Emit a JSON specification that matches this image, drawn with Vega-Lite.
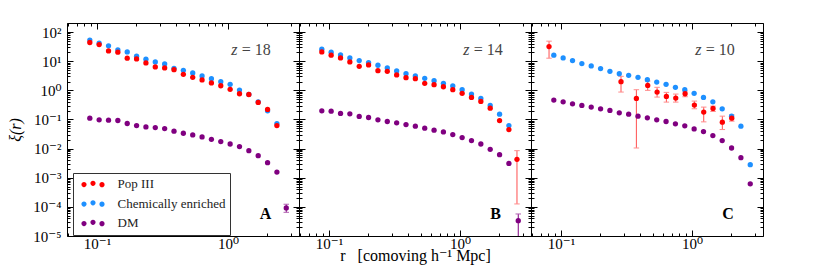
{
  "$schema": "https://vega.github.io/schema/vega-lite/v6.json",
  "padding": {"left": 7, "top": 15, "right": 5, "bottom": 2},
  "bounds": "flush",
  "spacing": 0,
  "config": {
    "view": {"stroke": "#000", "strokeWidth": 1},
    "axis": {"labelFont": "Liberation Serif, DejaVu Serif, serif", "labelFontSize": 15, "labelColor": "#000", "titleFont": "Liberation Serif, DejaVu Serif, serif", "titleFontSize": 15, "titleFontWeight": "normal", "titleColor": "#000", "tickColor": "#000", "domain": false, "grid": false, "labelOverlap": false, "labelFlush": false}
  },
  "data": {"values": [
    {"p":"A","s":"Chemically enriched","r":0.0881,"xi":53},
    {"p":"A","s":"Chemically enriched","r":0.1038,"xi":41.7},
    {"p":"A","s":"Chemically enriched","r":0.1224,"xi":33.7},
    {"p":"A","s":"Chemically enriched","r":0.1442,"xi":24.5},
    {"p":"A","s":"Chemically enriched","r":0.17,"xi":20.9},
    {"p":"A","s":"Chemically enriched","r":0.2004,"xi":14.8},
    {"p":"A","s":"Chemically enriched","r":0.2362,"xi":11.7},
    {"p":"A","s":"Chemically enriched","r":0.2784,"xi":9.46},
    {"p":"A","s":"Chemically enriched","r":0.3282,"xi":8.07},
    {"p":"A","s":"Chemically enriched","r":0.3869,"xi":5.72},
    {"p":"A","s":"Chemically enriched","r":0.456,"xi":4.88},
    {"p":"A","s":"Chemically enriched","r":0.5375,"xi":3.95},
    {"p":"A","s":"Chemically enriched","r":0.6335,"xi":3.11},
    {"p":"A","s":"Chemically enriched","r":0.7467,"xi":2.52},
    {"p":"A","s":"Chemically enriched","r":0.8802,"xi":1.98},
    {"p":"A","s":"Chemically enriched","r":1.0375,"xi":1.61},
    {"p":"A","s":"Chemically enriched","r":1.2229,"xi":1.02},
    {"p":"A","s":"Chemically enriched","r":1.4415,"xi":0.726},
    {"p":"A","s":"Chemically enriched","r":1.699,"xi":0.405},
    {"p":"A","s":"Chemically enriched","r":2.003,"xi":0.198},
    {"p":"A","s":"Chemically enriched","r":2.36,"xi":0.0726},
    {"p":"B","s":"Chemically enriched","r":0.0881,"xi":25.9},
    {"p":"B","s":"Chemically enriched","r":0.1038,"xi":20.4},
    {"p":"B","s":"Chemically enriched","r":0.1224,"xi":16.5},
    {"p":"B","s":"Chemically enriched","r":0.1442,"xi":13.0},
    {"p":"B","s":"Chemically enriched","r":0.17,"xi":10.5},
    {"p":"B","s":"Chemically enriched","r":0.2004,"xi":8.98},
    {"p":"B","s":"Chemically enriched","r":0.2362,"xi":7.26},
    {"p":"B","s":"Chemically enriched","r":0.2784,"xi":5.87},
    {"p":"B","s":"Chemically enriched","r":0.3282,"xi":4.63},
    {"p":"B","s":"Chemically enriched","r":0.3869,"xi":3.74},
    {"p":"B","s":"Chemically enriched","r":0.456,"xi":3.11},
    {"p":"B","s":"Chemically enriched","r":0.5375,"xi":2.59},
    {"p":"B","s":"Chemically enriched","r":0.6335,"xi":2.15},
    {"p":"B","s":"Chemically enriched","r":0.7467,"xi":1.74},
    {"p":"B","s":"Chemically enriched","r":0.8802,"xi":1.41},
    {"p":"B","s":"Chemically enriched","r":1.0375,"xi":1.05},
    {"p":"B","s":"Chemically enriched","r":1.2229,"xi":0.745},
    {"p":"B","s":"Chemically enriched","r":1.4415,"xi":0.528},
    {"p":"B","s":"Chemically enriched","r":1.699,"xi":0.303},
    {"p":"B","s":"Chemically enriched","r":2.003,"xi":0.152},
    {"p":"B","s":"Chemically enriched","r":2.36,"xi":0.062},
    {"p":"C","s":"Chemically enriched","r":0.0881,"xi":16.1},
    {"p":"C","s":"Chemically enriched","r":0.1038,"xi":13.0},
    {"p":"C","s":"Chemically enriched","r":0.1224,"xi":10.5},
    {"p":"C","s":"Chemically enriched","r":0.1442,"xi":8.28},
    {"p":"C","s":"Chemically enriched","r":0.17,"xi":6.89},
    {"p":"C","s":"Chemically enriched","r":0.2004,"xi":5.57},
    {"p":"C","s":"Chemically enriched","r":0.2362,"xi":4.51},
    {"p":"C","s":"Chemically enriched","r":0.2784,"xi":3.74},
    {"p":"C","s":"Chemically enriched","r":0.3282,"xi":3.28},
    {"p":"C","s":"Chemically enriched","r":0.3869,"xi":2.8},
    {"p":"C","s":"Chemically enriched","r":0.456,"xi":2.33},
    {"p":"C","s":"Chemically enriched","r":0.5375,"xi":1.93},
    {"p":"C","s":"Chemically enriched","r":0.6335,"xi":1.61},
    {"p":"C","s":"Chemically enriched","r":0.7467,"xi":1.27},
    {"p":"C","s":"Chemically enriched","r":0.8802,"xi":1.05},
    {"p":"C","s":"Chemically enriched","r":1.0375,"xi":0.787},
    {"p":"C","s":"Chemically enriched","r":1.2229,"xi":0.572},
    {"p":"C","s":"Chemically enriched","r":1.4415,"xi":0.405},
    {"p":"C","s":"Chemically enriched","r":1.699,"xi":0.233},
    {"p":"C","s":"Chemically enriched","r":2.003,"xi":0.13},
    {"p":"C","s":"Chemically enriched","r":2.36,"xi":0.0588},
    {"p":"C","s":"Chemically enriched","r":2.782,"xi":0.0028},
    {"p":"A","s":"DM","r":0.0881,"xi":0.111},
    {"p":"A","s":"DM","r":0.1038,"xi":0.097},
    {"p":"A","s":"DM","r":0.1224,"xi":0.0946},
    {"p":"A","s":"DM","r":0.1442,"xi":0.0922},
    {"p":"A","s":"DM","r":0.17,"xi":0.0727},
    {"p":"A","s":"DM","r":0.2004,"xi":0.0619},
    {"p":"A","s":"DM","r":0.2362,"xi":0.0557},
    {"p":"A","s":"DM","r":0.2784,"xi":0.0528},
    {"p":"A","s":"DM","r":0.3282,"xi":0.0488},
    {"p":"A","s":"DM","r":0.3869,"xi":0.0395},
    {"p":"A","s":"DM","r":0.456,"xi":0.0337},
    {"p":"A","s":"DM","r":0.5375,"xi":0.0295},
    {"p":"A","s":"DM","r":0.6335,"xi":0.0252},
    {"p":"A","s":"DM","r":0.7467,"xi":0.0209},
    {"p":"A","s":"DM","r":0.8802,"xi":0.0174},
    {"p":"A","s":"DM","r":1.0375,"xi":0.0144},
    {"p":"A","s":"DM","r":1.2229,"xi":0.0117},
    {"p":"A","s":"DM","r":1.4415,"xi":0.0085},
    {"p":"A","s":"DM","r":1.699,"xi":0.00573},
    {"p":"A","s":"DM","r":2.003,"xi":0.00328},
    {"p":"A","s":"DM","r":2.36,"xi":0.00156},
    {"p":"A","s":"DM","r":2.782,"xi":0.000092,"lo":0.000065,"hi":0.000123},
    {"p":"B","s":"DM","r":0.0881,"xi":0.198},
    {"p":"B","s":"DM","r":0.1038,"xi":0.193},
    {"p":"B","s":"DM","r":0.1224,"xi":0.161},
    {"p":"B","s":"DM","r":0.1442,"xi":0.156},
    {"p":"B","s":"DM","r":0.17,"xi":0.127},
    {"p":"B","s":"DM","r":0.2004,"xi":0.117},
    {"p":"B","s":"DM","r":0.2362,"xi":0.097},
    {"p":"B","s":"DM","r":0.2784,"xi":0.0851},
    {"p":"B","s":"DM","r":0.3282,"xi":0.0766},
    {"p":"B","s":"DM","r":0.3869,"xi":0.0671},
    {"p":"B","s":"DM","r":0.456,"xi":0.0588},
    {"p":"B","s":"DM","r":0.5375,"xi":0.0501},
    {"p":"B","s":"DM","r":0.6335,"xi":0.0428},
    {"p":"B","s":"DM","r":0.7467,"xi":0.0374},
    {"p":"B","s":"DM","r":0.8802,"xi":0.0303},
    {"p":"B","s":"DM","r":1.0375,"xi":0.0239},
    {"p":"B","s":"DM","r":1.2229,"xi":0.0188},
    {"p":"B","s":"DM","r":1.4415,"xi":0.0144},
    {"p":"B","s":"DM","r":1.699,"xi":0.00946},
    {"p":"B","s":"DM","r":2.003,"xi":0.0062},
    {"p":"B","s":"DM","r":2.36,"xi":0.00311},
    {"p":"B","s":"DM","r":2.782,"xi":0.0000337,"lo":0.000001,"hi":0.000057},
    {"p":"C","s":"DM","r":0.0881,"xi":0.463},
    {"p":"C","s":"DM","r":0.1038,"xi":0.405},
    {"p":"C","s":"DM","r":0.1224,"xi":0.346},
    {"p":"C","s":"DM","r":0.1442,"xi":0.303},
    {"p":"C","s":"DM","r":0.17,"xi":0.266},
    {"p":"C","s":"DM","r":0.2004,"xi":0.233},
    {"p":"C","s":"DM","r":0.2362,"xi":0.204},
    {"p":"C","s":"DM","r":0.2784,"xi":0.169},
    {"p":"C","s":"DM","r":0.3282,"xi":0.152},
    {"p":"C","s":"DM","r":0.3869,"xi":0.13},
    {"p":"C","s":"DM","r":0.456,"xi":0.114},
    {"p":"C","s":"DM","r":0.5375,"xi":0.097},
    {"p":"C","s":"DM","r":0.6335,"xi":0.0851},
    {"p":"C","s":"DM","r":0.7467,"xi":0.0707},
    {"p":"C","s":"DM","r":0.8802,"xi":0.0603},
    {"p":"C","s":"DM","r":1.0375,"xi":0.0475},
    {"p":"C","s":"DM","r":1.2229,"xi":0.0385},
    {"p":"C","s":"DM","r":1.4415,"xi":0.028},
    {"p":"C","s":"DM","r":1.699,"xi":0.0188},
    {"p":"C","s":"DM","r":2.003,"xi":0.0105},
    {"p":"C","s":"DM","r":2.36,"xi":0.00488},
    {"p":"C","s":"DM","r":2.782,"xi":0.00062},
    {"p":"A","s":"Pop III","r":0.0881,"xi":43.9},
    {"p":"A","s":"Pop III","r":0.1038,"xi":37.4},
    {"p":"A","s":"Pop III","r":0.1224,"xi":22.6},
    {"p":"A","s":"Pop III","r":0.1442,"xi":20.4},
    {"p":"A","s":"Pop III","r":0.17,"xi":12.7},
    {"p":"A","s":"Pop III","r":0.2004,"xi":12.0},
    {"p":"A","s":"Pop III","r":0.2362,"xi":8.74},
    {"p":"A","s":"Pop III","r":0.2784,"xi":6.36},
    {"p":"A","s":"Pop III","r":0.3282,"xi":5.87},
    {"p":"A","s":"Pop III","r":0.3869,"xi":5.14},
    {"p":"A","s":"Pop III","r":0.456,"xi":3.55},
    {"p":"A","s":"Pop III","r":0.5375,"xi":2.8},
    {"p":"A","s":"Pop III","r":0.6335,"xi":2.27},
    {"p":"A","s":"Pop III","r":0.7467,"xi":1.79},
    {"p":"A","s":"Pop III","r":0.8802,"xi":1.44},
    {"p":"A","s":"Pop III","r":1.0375,"xi":1.08},
    {"p":"A","s":"Pop III","r":1.2229,"xi":0.765},
    {"p":"A","s":"Pop III","r":1.4415,"xi":0.72},
    {"p":"A","s":"Pop III","r":1.699,"xi":0.385},
    {"p":"A","s":"Pop III","r":2.003,"xi":0.221},
    {"p":"A","s":"Pop III","r":2.36,"xi":0.062},
    {"p":"B","s":"Pop III","r":0.0881,"xi":20.9},
    {"p":"B","s":"Pop III","r":0.1038,"xi":16.1},
    {"p":"B","s":"Pop III","r":0.1224,"xi":13.0},
    {"p":"B","s":"Pop III","r":0.1442,"xi":9.46},
    {"p":"B","s":"Pop III","r":0.17,"xi":6.7},
    {"p":"B","s":"Pop III","r":0.2004,"xi":7.45},
    {"p":"B","s":"Pop III","r":0.2362,"xi":4.75},
    {"p":"B","s":"Pop III","r":0.2784,"xi":4.51},
    {"p":"B","s":"Pop III","r":0.3282,"xi":3.37},
    {"p":"B","s":"Pop III","r":0.3869,"xi":2.73},
    {"p":"B","s":"Pop III","r":0.456,"xi":2.52},
    {"p":"B","s":"Pop III","r":0.5375,"xi":1.74},
    {"p":"B","s":"Pop III","r":0.6335,"xi":1.56},
    {"p":"B","s":"Pop III","r":0.7467,"xi":1.33},
    {"p":"B","s":"Pop III","r":0.8802,"xi":1.05},
    {"p":"B","s":"Pop III","r":1.0375,"xi":0.787},
    {"p":"B","s":"Pop III","r":1.2229,"xi":0.572},
    {"p":"B","s":"Pop III","r":1.4415,"xi":0.417},
    {"p":"B","s":"Pop III","r":1.699,"xi":0.245},
    {"p":"B","s":"Pop III","r":2.003,"xi":0.092},
    {"p":"B","s":"Pop III","r":2.36,"xi":0.045},
    {"p":"B","s":"Pop III","r":2.72,"xi":0.00428,"lo":0.000126,"hi":0.0085},
    {"p":"C","s":"Pop III","r":0.081,"xi":31.9,"lo":12.7,"hi":48.8},
    {"p":"C","s":"Pop III","r":0.287,"xi":1.98,"lo":0.874,"hi":3.03},
    {"p":"C","s":"Pop III","r":0.376,"xi":0.529,"lo":0.0105,"hi":1.05},
    {"p":"C","s":"Pop III","r":0.459,"xi":1.48,"lo":0.998,"hi":2.09},
    {"p":"C","s":"Pop III","r":0.541,"xi":0.874,"lo":0.587,"hi":1.27},
    {"p":"C","s":"Pop III","r":0.637,"xi":0.62,"lo":0.395,"hi":0.851},
    {"p":"C","s":"Pop III","r":0.751,"xi":0.543,"lo":0.395,"hi":0.745},
    {"p":"C","s":"Pop III","r":0.885,"xi":0.765,"lo":0.603,"hi":0.946},
    {"p":"C","s":"Pop III","r":1.042,"xi":0.311,"lo":0.233,"hi":0.428},
    {"p":"C","s":"Pop III","r":1.228,"xi":0.179,"lo":0.0828,"hi":0.266},
    {"p":"C","s":"Pop III","r":1.446,"xi":0.239,"lo":0.188,"hi":0.287},
    {"p":"C","s":"Pop III","r":1.703,"xi":0.0807,"lo":0.0451,"hi":0.13},
    {"p":"C","s":"Pop III","r":2.01,"xi":0.111,"lo":0.0874,"hi":0.144}
  ]},
  "hconcat": [
    {
      "width": 232, "height": 213,
      "transform": [{"filter": "datum.p == 'A'"}],
      "layer": [
        {
          "mark": {"type": "point", "opacity": 0},
          "encoding": {
            "x": {"field": "r", "type": "quantitative", "scale": {"type": "log", "domain": [0.059, 3.48], "nice": false}, "axis": {"orient": "top", "values": [0.06,0.07,0.08,0.09,0.1,0.2,0.3,0.4,0.5,0.6,0.7,0.8,0.9,1,2,3], "labels": false, "title": null, "tickSize": {"condition": {"test": "abs(log(datum.value)/LN10 - round(log(datum.value)/LN10)) < 0.01", "value": -6}, "value": -3}}},
            "y": {"field": "xi", "type": "quantitative", "scale": {"type": "log", "domain": [0.00001, 205], "nice": false}, "axis": {"orient": "right", "values": [0.00001,0.00002,0.00003,0.00004,0.00005,0.00006,0.00007,0.00008,0.00009,0.0001,0.0002,0.0003,0.0004,0.0005,0.0006,0.0007,0.0008,0.0009,0.001,0.002,0.003,0.004,0.005,0.006,0.007,0.008,0.009,0.01,0.02,0.03,0.04,0.05,0.06,0.07,0.08,0.09,0.1,0.2,0.3,0.4,0.5,0.6,0.7,0.8,0.9,1,2,3,4,5,6,7,8,9,10,20,30,40,50,60,70,80,90,100,200], "labels": false, "title": null, "tickSize": {"condition": {"test": "abs(log(datum.value)/LN10 - round(log(datum.value)/LN10)) < 0.01", "value": -6}, "value": -3}}}
          }
        },
        {
          "transform": [{"filter": "isValid(datum.lo) && datum.s == 'DM'"}],
          "mark": {"type": "rule", "strokeWidth": 1, "color": "#800080", "clip": true},
          "encoding": {
            "x": {"field": "r", "type": "quantitative", "axis": null},
            "y": {"field": "lo", "type": "quantitative", "axis": null},
            "y2": {"field": "hi"}
          }
        },
        {
          "transform": [{"filter": "isValid(datum.lo) && datum.s == 'DM'"}, {"fold": ["lo", "hi"], "as": ["end", "v"]}],
          "mark": {"type": "point", "shape": "M-1,0L1,0", "filled": false, "size": 30, "strokeWidth": 1, "color": "#b060b0", "opacity": 1, "clip": true},
          "encoding": {
            "x": {"field": "r", "type": "quantitative", "axis": null},
            "y": {"field": "v", "type": "quantitative", "axis": null}
          }
        },
        {
          "mark": {"type": "point", "filled": true, "size": 28, "opacity": 1},
          "encoding": {
            "x": {"field": "r", "type": "quantitative", "axis": {"orient": "bottom", "values": [0.06,0.07,0.08,0.09,0.1,0.2,0.3,0.4,0.5,0.6,0.7,0.8,0.9,1,2,3], "labelExpr": "datum.value == 0.1 ? '10⁻¹' : datum.value == 1 ? '10⁰' : ''", "labelPadding": 6, "title": null, "tickSize": {"condition": {"test": "abs(log(datum.value)/LN10 - round(log(datum.value)/LN10)) < 0.01", "value": -6}, "value": -3}}},
            "y": {"field": "xi", "type": "quantitative", "axis": {"orient": "left", "values": [0.00001,0.00002,0.00003,0.00004,0.00005,0.00006,0.00007,0.00008,0.00009,0.0001,0.0002,0.0003,0.0004,0.0005,0.0006,0.0007,0.0008,0.0009,0.001,0.002,0.003,0.004,0.005,0.006,0.007,0.008,0.009,0.01,0.02,0.03,0.04,0.05,0.06,0.07,0.08,0.09,0.1,0.2,0.3,0.4,0.5,0.6,0.7,0.8,0.9,1,2,3,4,5,6,7,8,9,10,20,30,40,50,60,70,80,90,100,200], "labelExpr": "datum.value == 100 ? '10²' : datum.value == 10 ? '10¹' : datum.value == 1 ? '10⁰' : datum.value == 0.1 ? '10⁻¹' : datum.value == 0.01 ? '10⁻²' : datum.value == 0.001 ? '10⁻³' : datum.value == 0.0001 ? '10⁻⁴' : datum.value == 0.00001 ? '10⁻⁵' : ''", "labelPadding": 12, "title": "ξ(r)", "titleFontStyle": "italic", "titleFontSize": 16, "titlePadding": 9, "tickSize": {"condition": {"test": "abs(log(datum.value)/LN10 - round(log(datum.value)/LN10)) < 0.01", "value": -6}, "value": -3}}},
            "color": {"field": "s", "type": "nominal", "scale": {"domain": ["Pop III", "Chemically enriched", "DM"], "range": ["#ff0000", "#1e90ff", "#800080"]}, "legend": {"title": null, "orient": "none", "legendX": 6, "legendY": 150, "symbolType": "M-2.32,0.12A0.52,0.52,0,1,0,-1.28,0.12A0.52,0.52,0,1,0,-2.32,0.12ZM-0.52,-0.14A0.52,0.52,0,1,0,0.52,-0.14A0.52,0.52,0,1,0,-0.52,-0.14ZM1.28,0.14A0.52,0.52,0,1,0,2.32,0.14A0.52,0.52,0,1,0,1.28,0.14Z", "symbolSize": 100, "symbolStrokeWidth": 0, "symbolOffset": 9, "labelOffset": 18, "labelFont": "Liberation Serif, DejaVu Serif, serif", "labelFontSize": 13, "labelColor": "#222", "padding": 4.5, "rowPadding": 5.5, "fillColor": "#ffffff", "strokeColor": "#333333"}}
          }
        },
        {
          "transform": [{"aggregate": [{"op": "count", "as": "n"}]}],
          "mark": {"type": "text", "align": "right", "baseline": "middle", "font": "Liberation Serif, DejaVu Serif, serif", "fontSize": 16, "fontStyle": "italic", "color": "#444"},
          "encoding": {"x": {"datum": 1.18, "type": "quantitative", "axis": null}, "y": {"datum": 25, "type": "quantitative", "axis": null}, "text": {"value": "z"}}
        },
        {
          "transform": [{"aggregate": [{"op": "count", "as": "n"}]}],
          "mark": {"type": "text", "align": "left", "baseline": "middle", "font": "Liberation Serif, DejaVu Serif, serif", "fontSize": 16, "color": "#444"},
          "encoding": {"x": {"datum": 1.27, "type": "quantitative", "axis": null}, "y": {"datum": 25, "type": "quantitative", "axis": null}, "text": {"value": "= 18"}}
        },
        {
          "transform": [{"aggregate": [{"op": "count", "as": "n"}]}],
          "mark": {"type": "text", "align": "center", "baseline": "middle", "font": "Liberation Serif, DejaVu Serif, serif", "fontSize": 16, "fontWeight": "bold", "color": "#000"},
          "encoding": {"x": {"datum": 1.93, "type": "quantitative", "axis": null}, "y": {"datum": 0.000059, "type": "quantitative", "axis": null}, "text": {"value": "A"}}
        }
      ],
      "resolve": {"axis": {"x": "independent", "y": "independent"}}
    },
    {
      "width": 232, "height": 213,
      "transform": [{"filter": "datum.p == 'B'"}],
      "layer": [
        {
          "mark": {"type": "point", "opacity": 0},
          "encoding": {
            "x": {"field": "r", "type": "quantitative", "scale": {"type": "log", "domain": [0.059, 3.48], "nice": false}, "axis": {"orient": "top", "values": [0.06,0.07,0.08,0.09,0.1,0.2,0.3,0.4,0.5,0.6,0.7,0.8,0.9,1,2,3], "labels": false, "title": null, "tickSize": {"condition": {"test": "abs(log(datum.value)/LN10 - round(log(datum.value)/LN10)) < 0.01", "value": -6}, "value": -3}}},
            "y": {"field": "xi", "type": "quantitative", "scale": {"type": "log", "domain": [0.00001, 205], "nice": false}, "axis": {"orient": "right", "values": [0.00001,0.00002,0.00003,0.00004,0.00005,0.00006,0.00007,0.00008,0.00009,0.0001,0.0002,0.0003,0.0004,0.0005,0.0006,0.0007,0.0008,0.0009,0.001,0.002,0.003,0.004,0.005,0.006,0.007,0.008,0.009,0.01,0.02,0.03,0.04,0.05,0.06,0.07,0.08,0.09,0.1,0.2,0.3,0.4,0.5,0.6,0.7,0.8,0.9,1,2,3,4,5,6,7,8,9,10,20,30,40,50,60,70,80,90,100,200], "labels": false, "title": null, "tickSize": {"condition": {"test": "abs(log(datum.value)/LN10 - round(log(datum.value)/LN10)) < 0.01", "value": -6}, "value": -3}}}
          }
        },
        {
          "transform": [{"filter": "isValid(datum.lo) && datum.s == 'DM'"}],
          "mark": {"type": "rule", "strokeWidth": 1, "color": "#800080", "clip": true},
          "encoding": {
            "x": {"field": "r", "type": "quantitative", "axis": null},
            "y": {"field": "lo", "type": "quantitative", "axis": null},
            "y2": {"field": "hi"}
          }
        },
        {
          "transform": [{"filter": "isValid(datum.lo) && datum.s == 'DM'"}, {"fold": ["lo", "hi"], "as": ["end", "v"]}],
          "mark": {"type": "point", "shape": "M-1,0L1,0", "filled": false, "size": 30, "strokeWidth": 1, "color": "#b060b0", "opacity": 1, "clip": true},
          "encoding": {
            "x": {"field": "r", "type": "quantitative", "axis": null},
            "y": {"field": "v", "type": "quantitative", "axis": null}
          }
        },
        {
          "transform": [{"filter": "isValid(datum.lo) && datum.s == 'Pop III'"}],
          "mark": {"type": "rule", "strokeWidth": 1, "color": "#ff3030", "opacity": 0.85, "clip": true},
          "encoding": {
            "x": {"field": "r", "type": "quantitative", "axis": null},
            "y": {"field": "lo", "type": "quantitative", "axis": null},
            "y2": {"field": "hi"}
          }
        },
        {
          "transform": [{"filter": "isValid(datum.lo) && datum.s == 'Pop III'"}, {"fold": ["lo", "hi"], "as": ["end", "v"]}],
          "mark": {"type": "point", "shape": "M-1,0L1,0", "filled": false, "size": 30, "strokeWidth": 1, "color": "#ff8c8c", "opacity": 1, "clip": true},
          "encoding": {
            "x": {"field": "r", "type": "quantitative", "axis": null},
            "y": {"field": "v", "type": "quantitative", "axis": null}
          }
        },
        {
          "mark": {"type": "point", "filled": true, "size": 28, "opacity": 1},
          "encoding": {
            "x": {"field": "r", "type": "quantitative", "axis": {"orient": "bottom", "values": [0.06,0.07,0.08,0.09,0.1,0.2,0.3,0.4,0.5,0.6,0.7,0.8,0.9,1,2,3], "labelExpr": "datum.value == 0.1 ? '10⁻¹' : datum.value == 1 ? '10⁰' : ''", "labelPadding": 6, "title": "r\u00a0\u00a0\u00a0[comoving h⁻¹ Mpc]", "titleFontSize": 16, "titlePadding": -7, "tickSize": {"condition": {"test": "abs(log(datum.value)/LN10 - round(log(datum.value)/LN10)) < 0.01", "value": -6}, "value": -3}}},
            "y": {"field": "xi", "type": "quantitative", "axis": {"orient": "left", "values": [0.00001,0.00002,0.00003,0.00004,0.00005,0.00006,0.00007,0.00008,0.00009,0.0001,0.0002,0.0003,0.0004,0.0005,0.0006,0.0007,0.0008,0.0009,0.001,0.002,0.003,0.004,0.005,0.006,0.007,0.008,0.009,0.01,0.02,0.03,0.04,0.05,0.06,0.07,0.08,0.09,0.1,0.2,0.3,0.4,0.5,0.6,0.7,0.8,0.9,1,2,3,4,5,6,7,8,9,10,20,30,40,50,60,70,80,90,100,200], "labels": false, "title": null, "tickSize": {"condition": {"test": "abs(log(datum.value)/LN10 - round(log(datum.value)/LN10)) < 0.01", "value": -6}, "value": -3}}},
            "color": {"field": "s", "type": "nominal", "legend": {"title": null, "orient": "none", "legendX": 6, "legendY": 150, "symbolType": "M-2.32,0.12A0.52,0.52,0,1,0,-1.28,0.12A0.52,0.52,0,1,0,-2.32,0.12ZM-0.52,-0.14A0.52,0.52,0,1,0,0.52,-0.14A0.52,0.52,0,1,0,-0.52,-0.14ZM1.28,0.14A0.52,0.52,0,1,0,2.32,0.14A0.52,0.52,0,1,0,1.28,0.14Z", "symbolSize": 100, "symbolStrokeWidth": 0, "symbolOffset": 9, "labelOffset": 18, "labelFont": "Liberation Serif, DejaVu Serif, serif", "labelFontSize": 13, "labelColor": "#222", "padding": 4.5, "rowPadding": 5.5, "fillColor": "#ffffff", "strokeColor": "#333333"}}
          }
        },
        {
          "transform": [{"aggregate": [{"op": "count", "as": "n"}]}],
          "mark": {"type": "text", "align": "right", "baseline": "middle", "font": "Liberation Serif, DejaVu Serif, serif", "fontSize": 16, "fontStyle": "italic", "color": "#444"},
          "encoding": {"x": {"datum": 1.18, "type": "quantitative", "axis": null}, "y": {"datum": 25, "type": "quantitative", "axis": null}, "text": {"value": "z"}}
        },
        {
          "transform": [{"aggregate": [{"op": "count", "as": "n"}]}],
          "mark": {"type": "text", "align": "left", "baseline": "middle", "font": "Liberation Serif, DejaVu Serif, serif", "fontSize": 16, "color": "#444"},
          "encoding": {"x": {"datum": 1.27, "type": "quantitative", "axis": null}, "y": {"datum": 25, "type": "quantitative", "axis": null}, "text": {"value": "= 14"}}
        },
        {
          "transform": [{"aggregate": [{"op": "count", "as": "n"}]}],
          "mark": {"type": "text", "align": "center", "baseline": "middle", "font": "Liberation Serif, DejaVu Serif, serif", "fontSize": 16, "fontWeight": "bold", "color": "#000"},
          "encoding": {"x": {"datum": 1.87, "type": "quantitative", "axis": null}, "y": {"datum": 0.000059, "type": "quantitative", "axis": null}, "text": {"value": "B"}}
        }
      ],
      "resolve": {"axis": {"x": "independent", "y": "independent"}}
    },
    {
      "width": 232, "height": 213,
      "transform": [{"filter": "datum.p == 'C'"}],
      "layer": [
        {
          "mark": {"type": "point", "opacity": 0},
          "encoding": {
            "x": {"field": "r", "type": "quantitative", "scale": {"type": "log", "domain": [0.059, 3.48], "nice": false}, "axis": {"orient": "top", "values": [0.06,0.07,0.08,0.09,0.1,0.2,0.3,0.4,0.5,0.6,0.7,0.8,0.9,1,2,3], "labels": false, "title": null, "tickSize": {"condition": {"test": "abs(log(datum.value)/LN10 - round(log(datum.value)/LN10)) < 0.01", "value": -6}, "value": -3}}},
            "y": {"field": "xi", "type": "quantitative", "scale": {"type": "log", "domain": [0.00001, 205], "nice": false}, "axis": {"orient": "right", "values": [0.00001,0.00002,0.00003,0.00004,0.00005,0.00006,0.00007,0.00008,0.00009,0.0001,0.0002,0.0003,0.0004,0.0005,0.0006,0.0007,0.0008,0.0009,0.001,0.002,0.003,0.004,0.005,0.006,0.007,0.008,0.009,0.01,0.02,0.03,0.04,0.05,0.06,0.07,0.08,0.09,0.1,0.2,0.3,0.4,0.5,0.6,0.7,0.8,0.9,1,2,3,4,5,6,7,8,9,10,20,30,40,50,60,70,80,90,100,200], "labels": false, "title": null, "tickSize": {"condition": {"test": "abs(log(datum.value)/LN10 - round(log(datum.value)/LN10)) < 0.01", "value": -6}, "value": -3}}}
          }
        },
        {
          "transform": [{"filter": "isValid(datum.lo) && datum.s == 'Pop III'"}],
          "mark": {"type": "rule", "strokeWidth": 1, "color": "#ff3030", "opacity": 0.85, "clip": true},
          "encoding": {
            "x": {"field": "r", "type": "quantitative", "axis": null},
            "y": {"field": "lo", "type": "quantitative", "axis": null},
            "y2": {"field": "hi"}
          }
        },
        {
          "transform": [{"filter": "isValid(datum.lo) && datum.s == 'Pop III'"}, {"fold": ["lo", "hi"], "as": ["end", "v"]}],
          "mark": {"type": "point", "shape": "M-1,0L1,0", "filled": false, "size": 30, "strokeWidth": 1, "color": "#ff8c8c", "opacity": 1, "clip": true},
          "encoding": {
            "x": {"field": "r", "type": "quantitative", "axis": null},
            "y": {"field": "v", "type": "quantitative", "axis": null}
          }
        },
        {
          "mark": {"type": "point", "filled": true, "size": 28, "opacity": 1},
          "encoding": {
            "x": {"field": "r", "type": "quantitative", "axis": {"orient": "bottom", "values": [0.06,0.07,0.08,0.09,0.1,0.2,0.3,0.4,0.5,0.6,0.7,0.8,0.9,1,2,3], "labelExpr": "datum.value == 0.1 ? '10⁻¹' : datum.value == 1 ? '10⁰' : ''", "labelPadding": 6, "title": null, "tickSize": {"condition": {"test": "abs(log(datum.value)/LN10 - round(log(datum.value)/LN10)) < 0.01", "value": -6}, "value": -3}}},
            "y": {"field": "xi", "type": "quantitative", "axis": {"orient": "left", "values": [0.00001,0.00002,0.00003,0.00004,0.00005,0.00006,0.00007,0.00008,0.00009,0.0001,0.0002,0.0003,0.0004,0.0005,0.0006,0.0007,0.0008,0.0009,0.001,0.002,0.003,0.004,0.005,0.006,0.007,0.008,0.009,0.01,0.02,0.03,0.04,0.05,0.06,0.07,0.08,0.09,0.1,0.2,0.3,0.4,0.5,0.6,0.7,0.8,0.9,1,2,3,4,5,6,7,8,9,10,20,30,40,50,60,70,80,90,100,200], "labels": false, "title": null, "tickSize": {"condition": {"test": "abs(log(datum.value)/LN10 - round(log(datum.value)/LN10)) < 0.01", "value": -6}, "value": -3}}},
            "color": {"field": "s", "type": "nominal", "legend": {"title": null, "orient": "none", "legendX": 6, "legendY": 150, "symbolType": "M-2.32,0.12A0.52,0.52,0,1,0,-1.28,0.12A0.52,0.52,0,1,0,-2.32,0.12ZM-0.52,-0.14A0.52,0.52,0,1,0,0.52,-0.14A0.52,0.52,0,1,0,-0.52,-0.14ZM1.28,0.14A0.52,0.52,0,1,0,2.32,0.14A0.52,0.52,0,1,0,1.28,0.14Z", "symbolSize": 100, "symbolStrokeWidth": 0, "symbolOffset": 9, "labelOffset": 18, "labelFont": "Liberation Serif, DejaVu Serif, serif", "labelFontSize": 13, "labelColor": "#222", "padding": 4.5, "rowPadding": 5.5, "fillColor": "#ffffff", "strokeColor": "#333333"}}
          }
        },
        {
          "transform": [{"aggregate": [{"op": "count", "as": "n"}]}],
          "mark": {"type": "text", "align": "right", "baseline": "middle", "font": "Liberation Serif, DejaVu Serif, serif", "fontSize": 16, "fontStyle": "italic", "color": "#444"},
          "encoding": {"x": {"datum": 1.18, "type": "quantitative", "axis": null}, "y": {"datum": 25, "type": "quantitative", "axis": null}, "text": {"value": "z"}}
        },
        {
          "transform": [{"aggregate": [{"op": "count", "as": "n"}]}],
          "mark": {"type": "text", "align": "left", "baseline": "middle", "font": "Liberation Serif, DejaVu Serif, serif", "fontSize": 16, "color": "#444"},
          "encoding": {"x": {"datum": 1.27, "type": "quantitative", "axis": null}, "y": {"datum": 25, "type": "quantitative", "axis": null}, "text": {"value": "= 10"}}
        },
        {
          "transform": [{"aggregate": [{"op": "count", "as": "n"}]}],
          "mark": {"type": "text", "align": "center", "baseline": "middle", "font": "Liberation Serif, DejaVu Serif, serif", "fontSize": 16, "fontWeight": "bold", "color": "#000"},
          "encoding": {"x": {"datum": 1.88, "type": "quantitative", "axis": null}, "y": {"datum": 0.000059, "type": "quantitative", "axis": null}, "text": {"value": "C"}}
        }
      ],
      "resolve": {"axis": {"x": "independent", "y": "independent"}}
    }
  ]
}
